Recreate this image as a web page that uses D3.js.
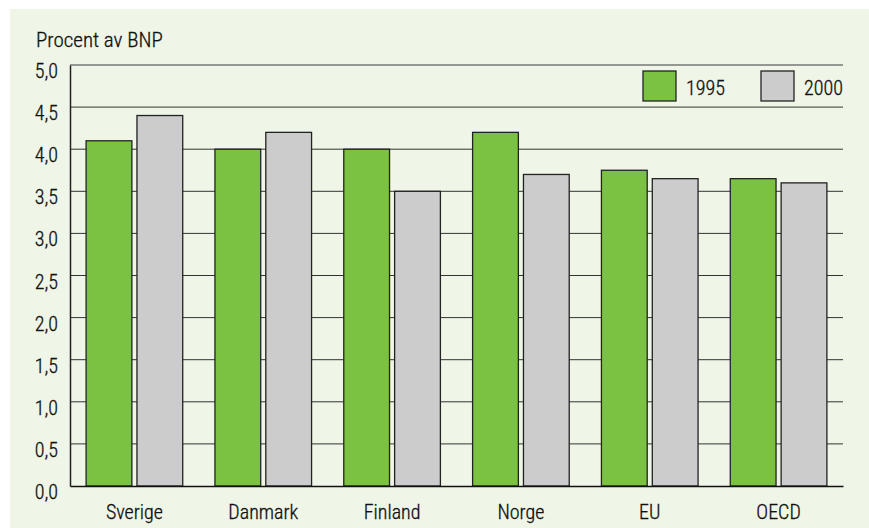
<!DOCTYPE html>
<html><head><meta charset="utf-8">
<script src="https://cdn.jsdelivr.net/npm/d3@7"></script>
<style>
body{margin:0;background:#fff;}
text{font-family:"Roboto Condensed","Liberation Sans",sans-serif;font-weight:300;fill:#111;stroke:#111;stroke-width:0.3px;}
</style></head>
<body><svg id="c" width="869" height="528"></svg>
<script>
const categories = ["Sverige","Danmark","Finland","Norge","EU","OECD"];
const series = ["1995","2000"];
const values1995 = [4.1, 4.0, 4.0, 4.2, 3.75, 3.65];
const values2000 = [4.4, 4.2, 3.5, 3.7, 3.65, 3.6];
const yTicks = [0,0.5,1,1.5,2,2.5,3,3.5,4,4.5,5];
const yTitle = "Procent av BNP";

const colors = {"1995":"#7cc242","2000":"#cccccc"};
const FS = 20;
const svg = d3.select("#c");
svg.append("rect").attr("x",10).attr("y",9).attr("width",859).attr("height",519).attr("fill","#eff5e7");

const L=70,R=843,T=65,B=486;
const x = d3.scaleBand().domain(categories).range([L,R]).paddingInner(0.25).paddingOuter(0.125);
const xs = d3.scaleBand().domain(series).range([0,x.bandwidth()]).paddingInner(0.1);
const y = d3.scaleLinear().domain([0,5]).range([B,T]);

// gridlines
svg.append("g").selectAll("line").data(yTicks.filter(d=>d>0)).join("line")
 .attr("x1",L).attr("x2",R).attr("y1",d=>y(d)).attr("y2",d=>y(d))
 .attr("stroke",d=>d===5?"#777":"#333").attr("stroke-width",d=>d===5?1.5:1);

// bars
const data = categories.map((c,i)=>({c, v:[{s:"1995",v:values1995[i]},{s:"2000",v:values2000[i]}]}));
const g = svg.append("g").selectAll("g").data(data).join("g").attr("transform",d=>`translate(${x(d.c)},0)`);
g.selectAll("rect").data(d=>d.v).join("rect")
 .attr("x",d=>xs(d.s)).attr("width",xs.bandwidth())
 .attr("y",d=>y(d.v)).attr("height",d=>B-y(d.v))
 .attr("fill",d=>colors[d.s]).attr("stroke","#222").attr("stroke-width",1.3);

// y axis
const ya = svg.append("g").attr("transform",`translate(${L},0)`)
 .call(d3.axisLeft(y).tickValues(yTicks).tickSize(0).tickPadding(12).tickFormat(d=>d3.format(".1f")(d).replace(".",",")));
ya.select(".domain").attr("stroke","#222").attr("stroke-width",1.5);
ya.selectAll("text").attr("font-size",FS).attr("fill","#111").attr("dy",null).attr("y",12.5);

// x axis
const xa = svg.append("g").attr("transform",`translate(0,${B})`)
 .call(d3.axisBottom(x).tickSize(0).tickPadding(0));
xa.select(".domain").attr("stroke","#111").attr("stroke-width",1.5);
xa.selectAll("text").attr("font-size",FS).attr("fill","#111").attr("dy",null).attr("y",33);

svg.append("text").attr("x",36).attr("y",46.5).attr("font-size",FS+1).text(yTitle);

// legend
const leg = [{s:"1995",x:643},{s:"2000",x:761}];
const lg = svg.append("g").selectAll("g").data(leg).join("g").attr("transform",d=>`translate(${d.x},71)`);
lg.append("rect").attr("width",33).attr("height",30).attr("fill",d=>colors[d.s]).attr("stroke","#222").attr("stroke-width",1.3);
lg.append("text").attr("x",43).attr("y",24).attr("font-size",FS).text(d=>d.s);
</script></body></html>
